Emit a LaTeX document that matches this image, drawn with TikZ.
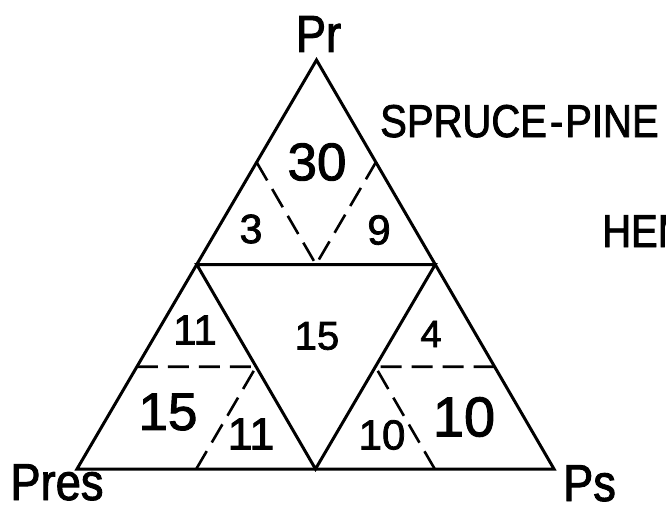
\documentclass[tikz,border=0pt]{standalone}
\usepackage{fontspec}
\setmainfont[FakeBold=1.8]{Liberation Sans}
\newfontfamily\wordfont[FakeStretch=0.87, FakeBold=1.8]{Liberation Sans}
\usetikzlibrary{positioning, calc}

\begin{document}
\begin{tikzpicture}[
    x=1pt, y=-1pt,
    edge/.style={line width=3pt, line join=miter},
    split/.style={line width=2.6pt, dash pattern=on 21pt off 10pt},
    corner/.style={inner sep=0pt, font=\wordfont\fontsize{52}{60}\selectfont},
    species/.style={inner sep=0pt, anchor=base west, font=\wordfont\fontsize{46}{52}\selectfont},
    cell/.style={inner sep=0pt, font=\fontsize{#1}{#1}\selectfont}
]
\clip (0,0) rectangle (666,506);

% corners of the triangle
\coordinate (Pr) at (316.5,60);
\coordinate (Pres) at (77,469);
\coordinate (Ps) at (554,469);

% midpoints
\coordinate (L) at ($(Pr)!.5!(Pres)$);
\coordinate (R) at ($(Pr)!.5!(Ps)$);
\coordinate (B) at ($(Pres)!.5!(Ps)$);

\draw[edge] (Pr) -- (Ps) -- (Pres) -- cycle;
\draw[edge] (L) -- (R) -- (B) -- cycle;

% dashed splits
\coordinate (topL) at ($(Pr)!.5!(L)$);
\coordinate (topR) at ($(Pr)!.5!(R)$);
\coordinate (topM) at ($(L)!.5!(R)$);
\draw[split] (topL) -- (topM) -- (topR);

\coordinate (leftA) at ($(L)!.5!(Pres)$);
\coordinate (leftB) at ($(L)!.5!(B)$);
\coordinate (leftC) at ($(Pres)!.5!(B)$);
\draw[split] (leftA) -- (leftB) -- (leftC);

\coordinate (rightA) at ($(R)!.5!(Ps)$);
\coordinate (rightB) at ($(R)!.5!(B)$);
\coordinate (rightC) at ($(B)!.5!(Ps)$);
\draw[split] (rightA) -- (rightB) -- (rightC);

% corner labels
\node[corner, above=8pt of Pr, xshift=2pt] (prlabel) {Pr};
\node[corner, anchor=base] (preslabel) at (57,500) {Pres};
\node[corner, anchor=base] (pslabel) at (589.5,501) {Ps};

\node[species] (spruce) at (380,137) {SPRUCE\kern3pt-\kern2pt PINE};
\node[species] (hem) at (602,247) {HEM};

% values
\node[cell=53] (v30) at (317,162) {30};
\node[cell=41] (v3) at (251,229) {3};
\node[cell=42] (v9) at (379,230) {9};
\node[cell=42] (v11a) at (195,330) {11};
\node[cell=40] (v15a) at (317,336) {15};
\node[cell=38] (v4) at (431,334) {4};
\node[cell=53] (v15b) at (168,412) {15};
\node[cell=45] (v11b) at (251,434) {11};
\node[cell=42] (v10a) at (382,435) {10};
\node[cell=56] (v10b) at (464,417) {10};

\end{tikzpicture}
\end{document}
